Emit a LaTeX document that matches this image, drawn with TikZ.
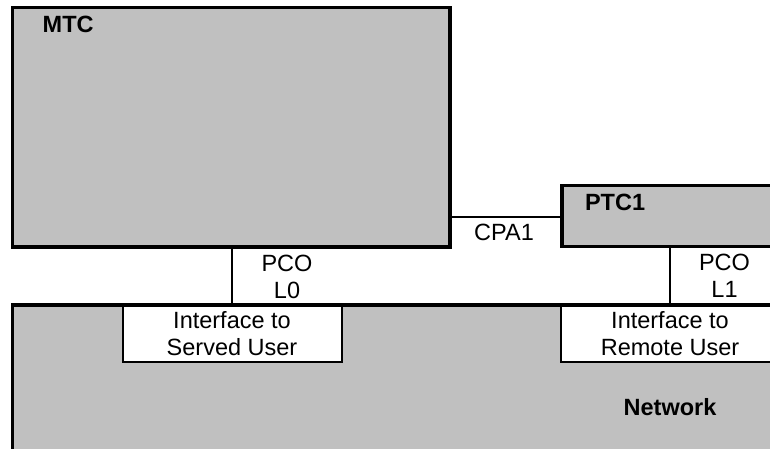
\documentclass[tikz,border=0pt]{standalone}
\usepackage{fontspec}
\setmainfont{Liberation Sans}
\definecolor{boxgray}{HTML}{C0C0C0}
\begin{document}
\begin{tikzpicture}[x=1pt,y=-1pt,
  every node/.style={inner sep=0pt,outer sep=0pt,font=\fontsize{23.5}{27}\selectfont},
  blockbox/.style={draw=black,line width=3.3pt,fill=boxgray,anchor=north west,rectangle},
  ifacebox/.style={draw=black,line width=1.6pt,fill=white,anchor=north west,rectangle},
  thinline/.style={draw=black,line width=1.6pt},
  thickline/.style={draw=black,line width=3.3pt},
  lbl/.style={anchor=base},
  blbl/.style={anchor=base west,font=\fontsize{23.5}{27}\selectfont\bfseries}]
\useasboundingbox (0,0) rectangle (770,448);
\clip (0,0) rectangle (770,448);
% blocks
\node[blockbox,minimum width=437.5pt,minimum height=239.5pt] (mtc) at (12.5,7.5) {};
\node[blockbox,minimum width=240pt,minimum height=61pt] (ptc) at (562,185.5) {};
\node[blockbox,minimum width=800pt,minimum height=200pt] (net) at (12.5,305) {};
% interface boxes
\node[ifacebox,minimum width=219.3pt,minimum height=57pt] (ifs) at (122.7,305) {};
\node[ifacebox,minimum width=218pt,minimum height=57pt] (ifr) at (561,305) {};
\draw[thickline] (net.north west) -- (net.north east);
% connectors
\coordinate (cpa) at (450,216.7);
\coordinate (l0) at (232,0);
\coordinate (l1) at (670,0);
\draw[thinline] (mtc.east |- cpa) -- (ptc.west |- cpa);
\draw[thinline] (l0 |- mtc.south) -- (l0 |- net.north);
\draw[thinline] (l1 |- ptc.south) -- (l1 |- net.north);
% labels
\node[blbl] (tmtc) at (42.7,32.7) {MTC};
\node[blbl] (tptc) at (585,210.7) {PTC1};
\node[blbl,anchor=base] (tnet) at (670,415) {Network};
\node[lbl] (tcpa) at (504,240) {CPA1};
\node[lbl] (tpco0) at (287,271) {PCO};
\node[lbl] (tl0) at (287,298) {L0};
\node[lbl] (tpco1) at (724.5,270.5) {PCO};
\node[lbl] (tl1) at (724.5,297.5) {L1};
\node[lbl] (tifs1) at (232,328.7) {Interface to};
\node[lbl] (tifs2) at (232,355.7) {Served User};
\node[lbl] (tifr1) at (670,328.7) {Interface to};
\node[lbl] (tifr2) at (670,355.7) {Remote User};
\end{tikzpicture}
\end{document}
